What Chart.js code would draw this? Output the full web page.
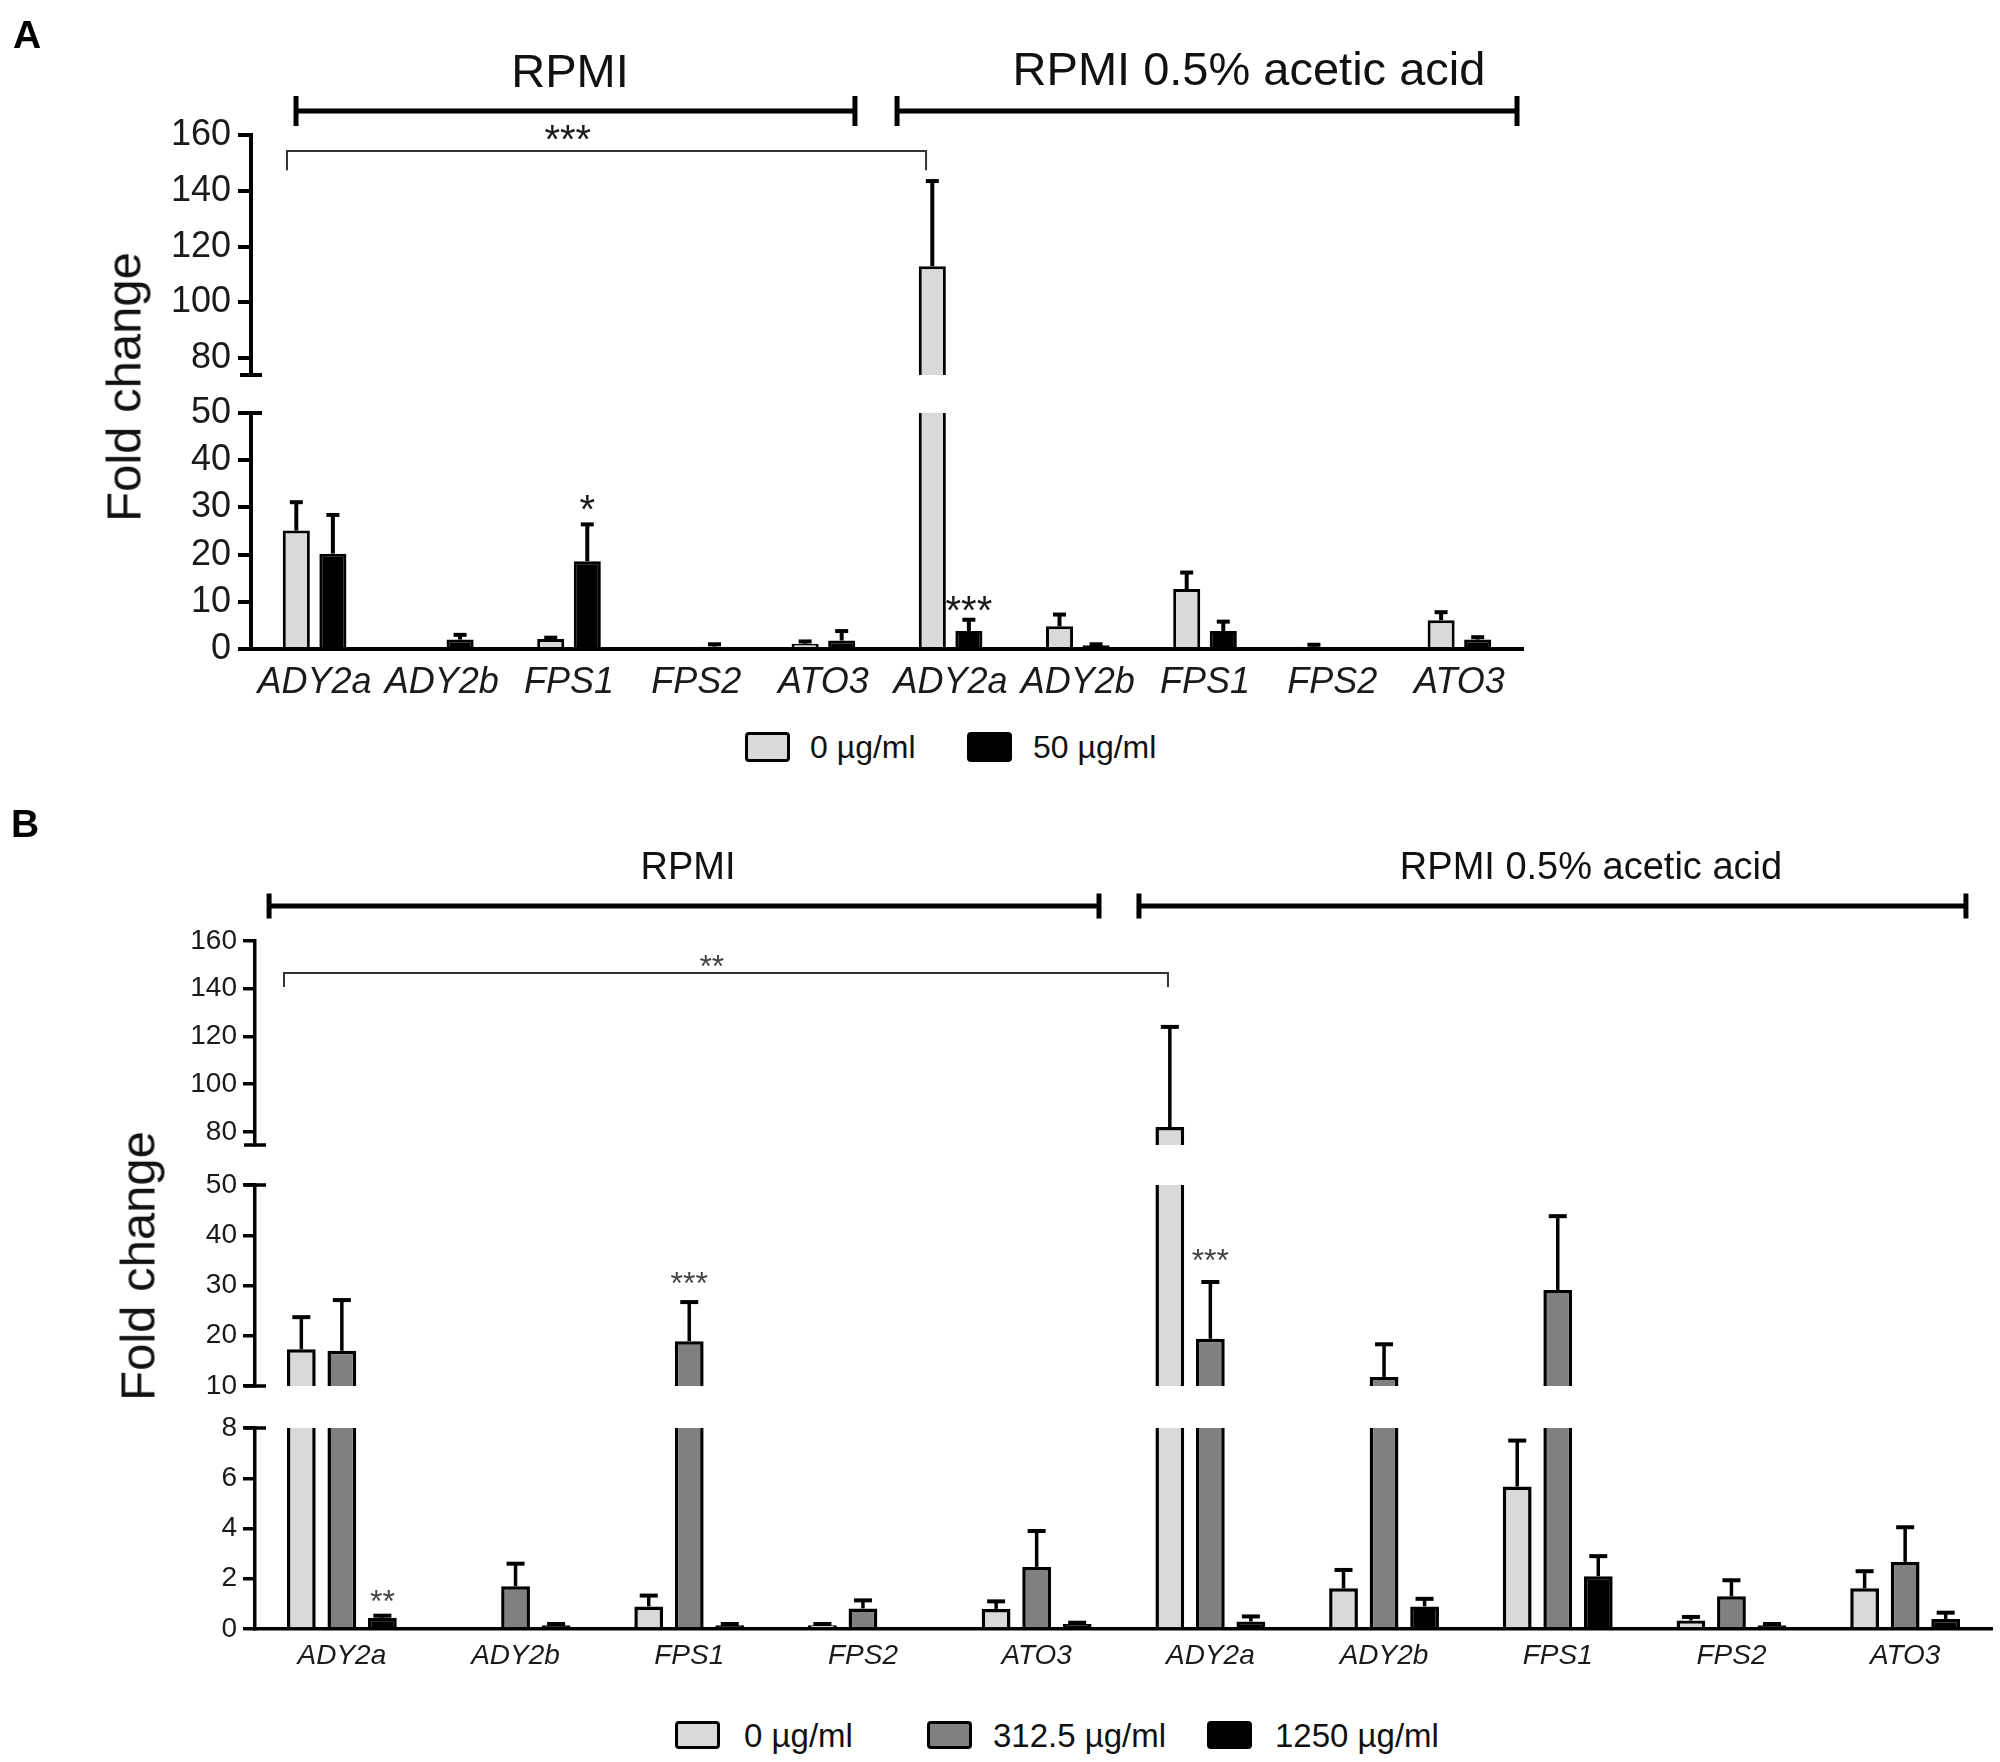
<!DOCTYPE html>
<html>
<head>
<meta charset="utf-8">
<script src="https://cdn.jsdelivr.net/npm/chart.js@4.4.1/dist/chart.umd.min.js"></script>
<style>
  body { margin: 0; background: #fff; }
  #page { position: relative; width: 2000px; height: 1762px; background: #fff; overflow: hidden;
          font-family: 'Liberation Sans', Arial, sans-serif; color: #111; }
  #page canvas { position: absolute; left: 0; }
  .txt { position: absolute; transform: translate(-50%, -50%); line-height: 1; white-space: nowrap; }
  .ytitle { position: absolute; transform: translate(-50%, -50%) rotate(-90deg); line-height: 1; white-space: nowrap; }
  .swatch { position: absolute; box-sizing: border-box; border: 3px solid #000; border-radius: 4px; }
  .legtxt { position: absolute; line-height: 1; transform: translateY(-50%); white-space: nowrap; }
</style>
</head>
<body>
<div id="page"></div>
<script>
// ---- data ----
const genes = ['ADY2a', 'ADY2b', 'FPS1', 'FPS2', 'ATO3', 'ADY2a', 'ADY2b', 'FPS1', 'FPS2', 'ATO3'];
const mediaLabels = ['RPMI', 'RPMI 0.5% acetic acid'];
const yTitle = 'Fold change';

// panel A
const aDoseLabels = ['0 µg/ml', '50 µg/ml'];
const aDose0     = [25.1, 0, 2.1, 0, 1.1, 113, 4.8, 12.7, 0.5, 6.1];
const aDose0Err  = [6.0, 0, 0.3, 0, 0.5, 30.5, 2.5, 3.5, 0.4, 1.7];
const aDose50    = [20.2, 2.0, 18.6, 0.5, 1.8, 3.8, 0.8, 3.8, 0, 2.0];
const aDose50Err = [8.2, 1.0, 7.8, 0.5, 2.0, 2.4, 0.2, 2.0, 0, 0.5];
const aUpperTicks = [80, 100, 120, 140, 160];
const aLowerTicks = [0, 10, 20, 30, 40, 50];

// panel B
const bDoseLabels = ['0 µg/ml', '312.5 µg/ml', '1250 µg/ml'];
const bDose0       = [17.3, 0, 0.9, 0.15, 0.8, 82, 1.62, 5.67, 0.34, 1.62];
const bDose0Err    = [6.4, 0, 0.43, 0.05, 0.3, 42, 0.73, 1.83, 0.14, 0.68];
const bDose312     = [17.0, 1.7, 18.9, 0.82, 2.47, 19.4, 11.8, 29.1, 1.3, 2.67];
const bDose312Err  = [10.1, 0.9, 7.8, 0.32, 1.43, 11.3, 6.5, 14.7, 0.64, 1.38];
const bDose1250    = [0.45, 0.15, 0.15, 0, 0.2, 0.3, 0.9, 2.1, 0.15, 0.4];
const bDose1250Err = [0.08, 0.05, 0.05, 0, 0.05, 0.2, 0.3, 0.8, 0.05, 0.25];
const bUpperTicks  = [80, 100, 120, 140, 160];
const bMiddleTicks = [10, 20, 30, 40, 50];
const bLowerTicks  = [0, 2, 4, 6, 8];

const fills = { light: '#d9d9d9', mid: '#808080', dark: '#000000' };
const textColor = '#1a1a1a';

Chart.defaults.font.family = "'Liberation Sans', Arial, sans-serif";
Chart.defaults.color = textColor;

const page = document.getElementById('page');

function addText(cls, text, x, y, size, extra) {
    const d = document.createElement('div');
    d.className = cls;
    d.textContent = text;
    d.style.left = x + 'px';
    d.style.top = y + 'px';
    d.style.fontSize = size + 'px';
    if (extra) Object.assign(d.style, extra);
    page.appendChild(d);
}

// ---- plugins ----
const errorBars = {
    id: 'errorBars',
    afterDatasetsDraw(chart, args, opts) {
        const { ctx, chartArea: a } = chart;
        const y = chart.scales.y;
        ctx.save();
        ctx.beginPath();
        ctx.rect(a.left, a.top, a.right - a.left, a.bottom - a.top);
        ctx.clip();
        ctx.strokeStyle = '#000';
        chart.data.datasets.forEach((ds, i) => {
            chart.getDatasetMeta(i).data.forEach((bar, j) => {
                const err = ds.errors[j];
                if (!err) return;
                const v = ds.data[j];
                const y0 = y.getPixelForValue(v);
                const y1 = y.getPixelForValue(v + err);
                ctx.lineWidth = opts.width;
                ctx.beginPath();
                ctx.moveTo(bar.x, y0);
                ctx.lineTo(bar.x, y1);
                ctx.stroke();
                ctx.lineWidth = opts.capThick;
                ctx.beginPath();
                ctx.moveTo(bar.x - opts.cap / 2, y1);
                ctx.lineTo(bar.x + opts.cap / 2, y1);
                ctx.stroke();
            });
        });
        ctx.restore();
    }
};

const breakMarks = {
    id: 'breakMarks',
    afterDraw(chart, args, opts) {
        if (!opts.edges) return;
        const { ctx, chartArea: a } = chart;
        ctx.save();
        ctx.strokeStyle = '#000';
        ctx.lineWidth = opts.lineWidth;
        opts.edges.forEach(edge => {
            const yy = edge === 'top' ? a.top : a.bottom;
            ctx.beginPath();
            ctx.moveTo(a.left - opts.half, yy);
            ctx.lineTo(a.left + opts.half, yy);
            ctx.stroke();
        });
        ctx.restore();
    }
};

const starNotes = {
    id: 'starNotes',
    afterDraw(chart, args, opts) {
        if (!opts.items) return;
        const ctx = chart.ctx;
        ctx.save();
        ctx.fillStyle = opts.color || textColor;
        ctx.textAlign = 'center';
        ctx.textBaseline = 'alphabetic';
        opts.items.forEach(s => {
            const ds = chart.data.datasets[s.ds];
            const bar = chart.getDatasetMeta(s.ds).data[s.idx];
            const top = chart.scales.y.getPixelForValue(ds.data[s.idx] + ds.errors[s.idx]);
            ctx.font = s.size + "px 'Liberation Sans', Arial, sans-serif";
            ctx.fillText(s.text, bar.x, top - s.lift + 0.575 * s.size);
        });
        ctx.restore();
    }
};

const brackets = {
    id: 'brackets',
    afterDraw(chart, args, opts) {
        const { ctx, chartArea: a } = chart;
        const x = chart.scales.x, y = chart.scales.y;
        ctx.save();
        if (opts.spans) {
            const yy = a.top - opts.lift;
            ctx.strokeStyle = '#000';
            ctx.lineWidth = opts.lineWidth;
            opts.spans.forEach(([from, to]) => {
                const x1 = x.getPixelForValue(from), x2 = x.getPixelForValue(to);
                ctx.beginPath();
                ctx.moveTo(x1, yy); ctx.lineTo(x2, yy);
                ctx.moveTo(x1, yy - opts.cap); ctx.lineTo(x1, yy + opts.cap);
                ctx.moveTo(x2, yy - opts.cap); ctx.lineTo(x2, yy + opts.cap);
                ctx.stroke();
            });
        }
        if (opts.sig) {
            const s = opts.sig;
            const x1 = x.getPixelForValue(s.from), x2 = x.getPixelForValue(s.to);
            const yl = y.getPixelForValue(s.value), yd = y.getPixelForValue(s.drop);
            ctx.strokeStyle = '#333';
            ctx.lineWidth = 2;
            ctx.beginPath();
            ctx.moveTo(x1, yd); ctx.lineTo(x1, yl); ctx.lineTo(x2, yl); ctx.lineTo(x2, yd);
            ctx.stroke();
            ctx.fillStyle = s.color || textColor;
            ctx.textAlign = 'center';
            ctx.font = s.size + "px 'Liberation Sans', Arial, sans-serif";
            ctx.fillText(s.text, x.getPixelForValue(s.textAt), yl - s.lift + 0.575 * s.size);
        }
        ctx.restore();
    }
};

// ---- one broken-axis segment = one chart ----
function makeSegment(geo, seg, datasets) {
    const canvas = document.createElement('canvas');
    canvas.width = 2000;
    canvas.height = seg.height;
    canvas.style.top = seg.top + 'px';
    canvas.style.width = '2000px';
    canvas.style.height = seg.height + 'px';
    page.appendChild(canvas);

    const xAxisH = seg.xAxis ? seg.xAxisH : 0;
    const xScale = seg.xAxis ? {
        offset: true,
        grid: { display: false, drawTicks: false },
        border: { display: true, color: '#000', width: geo.axisW },
        ticks: { font: { size: geo.labelFont, style: 'italic' }, color: textColor,
                 padding: geo.labelPad, maxRotation: 0, autoSkip: false },
        afterFit: ax => { ax.height = xAxisH; }
    } : { display: false, offset: true };

    return new Chart(canvas, {
        type: 'bar',
        data: { labels: genes, datasets },
        options: {
            responsive: false,
            devicePixelRatio: 1,
            animation: false,
            events: [],
            layout: { padding: {
                left: 0,
                right: 2000 - geo.right,
                top: seg.areaTop - seg.top,
                bottom: seg.top + seg.height - seg.areaBottom - xAxisH
            } },
            datasets: { bar: { categoryPercentage: geo.cp, barPercentage: geo.bp } },
            scales: {
                x: xScale,
                y: {
                    min: seg.min, max: seg.max,
                    afterBuildTicks: ax => { ax.ticks = seg.ticks.map(v => ({ value: v })); },
                    afterFit: ax => { ax.width = geo.left; },
                    border: { display: true, color: '#000', width: geo.axisW },
                    grid: { display: true, drawOnChartArea: false, drawTicks: true,
                            tickLength: geo.tickLen, color: '#000', lineWidth: geo.axisW },
                    ticks: { font: { size: geo.tickFont }, color: textColor, padding: geo.tickPad,
                             callback: v => String(v) }
                }
            },
            plugins: {
                legend: { display: false },
                tooltip: { enabled: false },
                errorBars: { width: geo.errW, cap: geo.cap, capThick: geo.capThick },
                breakMarks: { edges: seg.edges, half: 11, lineWidth: geo.axisW },
                starNotes: { items: seg.stars, color: seg.starColor },
                brackets: seg.brackets || {}
            }
        },
        plugins: [errorBars, breakMarks, starNotes, brackets]
    });
}

function barSet(label, data, errors, fill, border) {
    return { label, data, errors, backgroundColor: fill, borderColor: '#000',
             borderWidth: border, borderSkipped: 'start', clip: 0 };
}

// ---- panel A ----
const geoA = { left: 251, right: 1523, axisW: 4, tickLen: 13, tickPad: 7, tickFont: 36,
               labelFont: 36, labelPad: 12, cp: 0.575, bp: 0.74, errW: 4, cap: 13, capThick: 4 };
const setsA = () => [
    barSet(aDoseLabels[0], aDose0, aDose0Err, fills.light, 3),
    barSet(aDoseLabels[1], aDose50, aDose50Err, fills.dark, 3)
];
makeSegment(geoA, {
    top: 0, height: 410, areaTop: 135, areaBottom: 375, min: 74, max: 160,
    ticks: aUpperTicks, edges: ['bottom'],
    brackets: {
        spans: [[-0.146, 4.248], [4.579, 9.453]], lift: 24, cap: 15, lineWidth: 5,
        sig: { from: -0.217, to: 4.807, value: 154.3, drop: 147.4, text: '***', textAt: 1.99, lift: 21, size: 40 }
    }
}, setsA());
makeSegment(geoA, {
    top: 380, height: 337, areaTop: 413, areaBottom: 649, min: 0, max: 50,
    ticks: aLowerTicks, edges: ['top'], xAxis: true, xAxisH: 68,
    stars: [
        { ds: 1, idx: 2, text: '*', lift: 24, size: 40 },
        { ds: 1, idx: 5, text: '***', lift: 19, size: 40 }
    ]
}, setsA());

// ---- panel B ----
const geoB = { left: 255, right: 1992, axisW: 3.5, tickLen: 12, tickPad: 6, tickFont: 28,
               labelFont: 28, labelPad: 10, cp: 0.70, bp: 0.71, errW: 3.5, cap: 18, capThick: 4 };
const setsB = () => [
    barSet(bDoseLabels[0], bDose0, bDose0Err, fills.light, 3.5),
    barSet(bDoseLabels[1], bDose312, bDose312Err, fills.mid, 3.5),
    barSet(bDoseLabels[2], bDose1250, bDose1250Err, fills.dark, 3.5)
];
makeSegment(geoB, {
    top: 780, height: 395, areaTop: 941, areaBottom: 1145, min: 74.5, max: 160,
    ticks: bUpperTicks, edges: ['bottom'],
    brackets: {
        spans: [[-0.419, 4.359], [4.589, 9.35]], lift: 35, cap: 12.5, lineWidth: 5,
        sig: { from: -0.333, to: 4.756, value: 146.6, drop: 140.7, text: '**', textAt: 2.13, lift: 14, size: 32, color: '#444' }
    }
}, setsB());
makeSegment(geoB, {
    top: 1150, height: 266, areaTop: 1185, areaBottom: 1386, min: 10, max: 50,
    ticks: bMiddleTicks, edges: ['top', 'bottom'], starColor: '#444',
    stars: [
        { ds: 1, idx: 2, text: '***', lift: 26, size: 32 },
        { ds: 1, idx: 5, text: '***', lift: 29, size: 32 }
    ]
}, setsB());
makeSegment(geoB, {
    top: 1392, height: 297, areaTop: 1428, areaBottom: 1629, min: 0, max: 8,
    ticks: bLowerTicks, edges: ['top'], xAxis: true, xAxisH: 60, starColor: '#444',
    stars: [{ ds: 2, idx: 0, text: '**', lift: 22, size: 32 }]
}, setsB());

// ---- text and legends ----
addText('txt', 'A', 27, 34, 39, { fontWeight: 'bold', color: '#000' });
addText('txt', 'B', 25, 823, 39, { fontWeight: 'bold', color: '#000' });
addText('txt', mediaLabels[0], 570, 70, 47);
addText('txt', mediaLabels[1], 1249, 68, 47);
addText('txt', mediaLabels[0], 688, 866, 38);
addText('txt', mediaLabels[1], 1591, 866, 38);
addText('ytitle', yTitle, 124, 387, 49);
addText('ytitle', yTitle, 138, 1266, 49);

function legend(labels, colors, boxLefts, textLefts, boxTop, boxW, boxH, centerY, size) {
    labels.forEach((lab, i) => {
        const sw = document.createElement('div');
        sw.className = 'swatch';
        Object.assign(sw.style, { left: boxLefts[i] + 'px', top: boxTop + 'px',
            width: boxW + 'px', height: boxH + 'px', background: colors[i] });
        page.appendChild(sw);
        addText('legtxt', lab, textLefts[i], centerY, size);
    });
}
legend(aDoseLabels, [fills.light, fills.dark], [745, 967], [810, 1033], 732, 45, 30, 747, 32);
legend(bDoseLabels, [fills.light, fills.mid, fills.dark], [675, 927, 1207], [744, 993, 1275], 1721, 45, 28, 1735, 33);
</script>
</body>
</html>
